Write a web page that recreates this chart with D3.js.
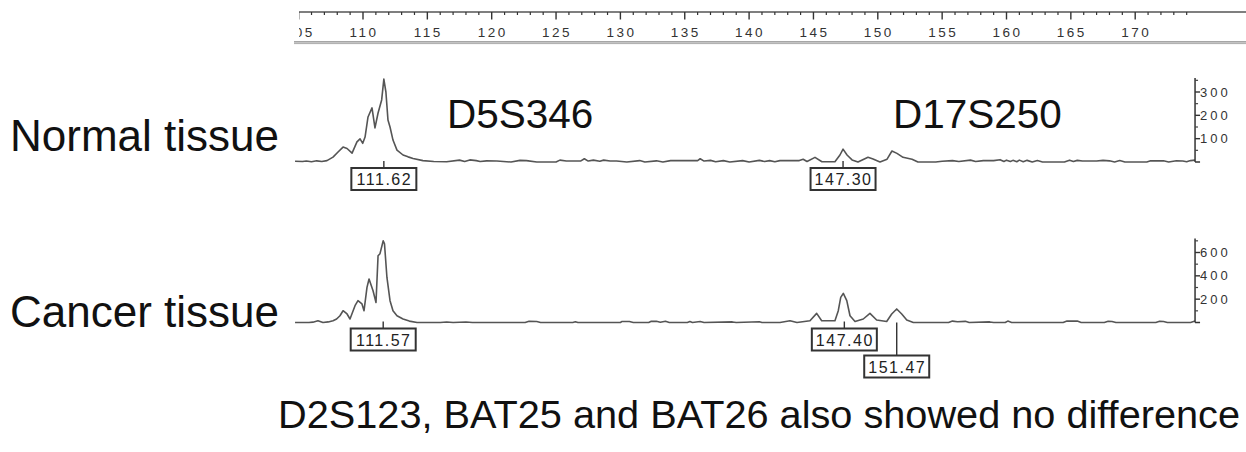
<!DOCTYPE html>
<html><head><meta charset="utf-8">
<script src="https://cdn.jsdelivr.net/npm/d3@7"></script>
<style>
html,body{margin:0;padding:0;background:#fff;}
svg{display:block;}
text{font-family:"Liberation Sans",Arial,sans-serif;}
</style></head>
<body>
<svg id="chart" width="1246" height="452"></svg>
<script>
// ---- data ----
const sizeTicksMajor = [105,110,115,120,125,130,135,140,145,150,155,160,165,170];
const normalTicks = [100,200,300];
const cancerTicks = [200,400,600];
const normalPeakLabels = [111.62, 147.30];
const cancerPeakLabels = [111.57, 147.40, 151.47];
const rowLabels = ["Normal tissue", "Cancer tissue"];
const markerLabels = ["D5S346", "D17S250"];
const markerPositions = [116.53, 151.18];
const footnote = "D2S123, BAT25 and BAT26 also showed no difference";

const normalTrace = [[104.72,3],[105.3,2],[105.6,4],[106.0,1],[106.4,5],[106.8,2],[107.2,6],[107.67,21],[108.1,45],[108.45,64],[108.76,58],[109.15,38],[109.53,86],[109.77,99],[109.98,80],[110.16,107],[110.39,193],[110.70,232],[110.93,146],[111.17,210],[111.45,266],[111.62,355],[111.78,300],[111.94,180],[112.10,150],[112.33,94],[112.64,51],[113.11,30],[113.5,22],[113.89,15],[114.66,6],[115.5,2],[116.5,1],[117.5,8],[117.9,2],[118.3,9],[118.8,6],[119.1,2],[119.6,5],[120.4,4],[121.5,0],[122.2,7],[122.7,6],[123.5,0],[125.0,0],[125.3,8],[125.8,4],[126.9,4],[127.2,14],[127.5,4],[127.9,8],[128.4,3],[128.7,8],[129.2,4],[129.7,4],[130.5,0],[131.5,6],[131.9,0],[132.8,5],[133.3,0],[133.9,6],[136.0,6],[136.2,14],[136.5,4],[137.0,7],[137.4,1],[138.0,6],[138.5,0],[139.5,6],[140.0,0],[140.8,7],[141.2,2],[141.6,6],[142.0,1],[142.4,6],[143.9,6],[144.2,12],[144.5,2],[145.12,20],[145.66,1],[146.67,1],[147.06,30],[147.30,55],[147.61,30],[148.00,9],[148.46,0],[149.24,20],[149.63,13],[150.17,0],[150.72,12],[151.10,47],[151.49,37],[151.96,20],[152.66,12],[153.12,0],[154.5,0],[155.0,3],[155.8,6],[156.3,2],[157.2,8],[157.6,2],[158.2,6],[159.0,6],[159.5,10],[159.8,2],[160.0,8],[160.3,2],[160.5,7],[160.8,1],[161.0,8],[161.3,1],[161.6,7],[162.0,0],[162.4,6],[162.8,0],[164.5,0],[164.9,8],[165.2,2],[165.5,7],[165.9,4],[167.0,4],[167.5,7],[168.0,5],[168.4,0],[168.8,6],[169.2,0],[170.9,0],[171.2,5],[172.2,5],[172.6,0],[173.2,5],[173.7,4],[174.0,1],[174.3,6],[174.65,8]];

const cancerTrace = [[104.72,0],[105.8,0],[106.11,3],[106.50,15],[106.89,0],[107.3,5],[107.67,15],[107.95,30],[108.21,58],[108.45,101],[108.76,73],[108.99,30],[109.38,144],[109.61,187],[109.92,159],[110.08,101],[110.31,301],[110.47,373],[110.78,272],[111.01,172],[111.17,572],[111.32,590],[111.57,701],[111.67,675],[111.86,386],[112.10,187],[112.33,101],[112.64,58],[113.11,30],[113.6,12],[114.20,0],[116,0],[116.5,4],[117,0],[118,4],[118.5,0],[120,0],[122.6,0],[122.9,10],[123.5,8],[123.8,0],[126.3,0],[126.5,6],[126.7,0],[130.0,0],[130.1,8],[130.7,8],[131.0,0],[132.2,0],[132.4,10],[132.8,10],[133.1,2],[133.5,10],[133.8,0],[135.2,0],[135.4,8],[135.6,0],[136.2,8],[136.5,0],[138.7,5],[139,0],[140.8,6],[141.0,0],[142.4,0],[143.18,15],[143.72,0],[144.73,15],[145.25,78],[145.64,15],[146.67,15],[146.93,101],[147.12,215],[147.32,250],[147.59,187],[147.84,58],[148.23,9],[148.87,30],[149.39,78],[149.91,21],[150.69,9],[151.08,73],[151.47,116],[151.86,73],[152.25,21],[152.76,0],[155.5,0],[155.8,12],[156.2,6],[156.8,10],[157.1,0],[158.7,5],[159.0,0],[159.9,0],[160.1,12],[160.4,0],[164.4,0],[164.7,12],[165.5,12],[165.8,0],[167.6,0],[167.9,10],[168.2,8],[168.5,0],[171.6,0],[171.9,10],[172.2,8],[172.5,0],[174.3,0],[174.65,12]];

// ---- layout ----
const svg = d3.select("#chart");
const x = d3.scaleLinear().domain([110,170]).range([363, 363 + 60*12.87]);
const xEnd = 174.65;
const yN = d3.scaleLinear().domain([0,360]).range([162,78]);
const yC = d3.scaleLinear().domain([0,720]).range([322.5,238.5]);
const traceCol = "#555";

// top size ruler
svg.append("clipPath").attr("id","rulerClip").append("rect")
  .attr("x",299).attr("y",0).attr("width",960).attr("height",45);
const ruler = svg.append("g").attr("clip-path","url(#rulerClip)");
ruler.append("line").attr("x1",297).attr("x2",1246).attr("y1",12).attr("y2",12)
  .attr("stroke","#555").attr("stroke-width",1.3);
const minorVals = d3.range(105,175,1);
ruler.selectAll("line.mt").data(minorVals).join("line")
  .attr("x1",d=>x(d)).attr("x2",d=>x(d)).attr("y1",12)
  .attr("y2",d=> d%5===0 ? 19.5 : 15)
  .attr("stroke","#333").attr("stroke-width",d=> d%5===0 ? 1.4 : 1.2);
ruler.selectAll("text.tl").data(sizeTicksMajor).join("text")
  .attr("x",d=>x(d)+1).attr("y",37).attr("text-anchor","middle")
  .attr("font-size",13.5).attr("letter-spacing","2.5px").attr("fill","#333")
  .text(d=>d);
svg.append("line").attr("x1",294).attr("x2",1246).attr("y1",41.8).attr("y2",41.8)
  .attr("stroke","#888").attr("stroke-width",1.2);
svg.append("line").attr("x1",294).attr("x2",1246).attr("y1",43.6).attr("y2",43.6)
  .attr("stroke","#aaa").attr("stroke-width",1);

// traces
function drawPanel(trace, y, ticks, minorStep, labels) {
  const line = d3.line().x(d=>x(d[0])).y(d=>y(d[1]));
  svg.append("path").datum(trace).attr("d",line)
    .attr("fill","none").attr("stroke",traceCol).attr("stroke-width",1.6)
    .attr("stroke-linejoin","round");
  // right axis
  const ax = svg.append("g").attr("transform",`translate(${x(xEnd)},0)`);
  const dom = y.domain();
  ax.append("line").attr("x1",0).attr("x2",0).attr("y1",y(dom[1])).attr("y2",y(0))
    .attr("stroke","#333").attr("stroke-width",1.5);
  ax.append("line").attr("x1",0).attr("x2",5).attr("y1",y(0)).attr("y2",y(0))
    .attr("stroke","#333").attr("stroke-width",1.5);
  const minor = d3.range(minorStep, dom[1], minorStep*2);
  ax.selectAll("line.mn").data(minor).join("line")
    .attr("x1",0).attr("x2",3).attr("y1",d=>y(d)).attr("y2",d=>y(d))
    .attr("stroke","#444").attr("stroke-width",1.2);
  ax.selectAll("line.mj").data(ticks).join("line")
    .attr("x1",0).attr("x2",5).attr("y1",d=>y(d)).attr("y2",d=>y(d))
    .attr("stroke","#333").attr("stroke-width",1.4);
  ax.selectAll("text").data(ticks).join("text")
    .attr("x",5).attr("y",d=>y(d)+4.5).attr("font-size",13)
    .attr("letter-spacing","3px").attr("fill","#333").text(d=>d);
  // peak labels
  const base = y(0);
  let prevRight = -1e9, row = 0;
  labels.forEach(v => {
    const cx = x(v), w = 65, h = 22;
    row = (cx - w/2 < prevRight) ? row + 1 : 0;
    const top = base + 6 + row*27;
    prevRight = cx + w/2;
    svg.append("line").attr("x1",cx).attr("x2",cx).attr("y1",base - (row? 0 : 1)).attr("y2",top)
      .attr("stroke","#333").attr("stroke-width",1.4);
    svg.append("rect").attr("x",cx-w/2).attr("y",top).attr("width",w).attr("height",h)
      .attr("fill","#fff").attr("stroke","#333").attr("stroke-width",2);
    svg.append("text").attr("x",cx+0.5).attr("y",top+17).attr("text-anchor","middle")
      .attr("font-size",16).attr("letter-spacing","1.5px").attr("fill","#222")
      .text(v.toFixed(2));
  });
}
drawPanel(normalTrace, yN, normalTicks, 50, normalPeakLabels);
drawPanel(cancerTrace, yC, cancerTicks, 100, cancerPeakLabels);

// texts
svg.selectAll("text.row").data(rowLabels).join("text")
  .attr("x",10).attr("y",(d,i)=> i===0 ? 151 : 327)
  .attr("font-size",44).attr("fill","#111").text(d=>d);
svg.selectAll("text.mk").data(markerLabels).join("text")
  .attr("x",(d,i)=> x(markerPositions[i])).attr("y",128)
  .attr("font-size",40.5).attr("fill","#111").text(d=>d);
svg.append("text").attr("x",1240).attr("y",428).attr("text-anchor","end")
  .attr("font-size",39.7).attr("fill","#111").text(footnote);
</script>
</body></html>
